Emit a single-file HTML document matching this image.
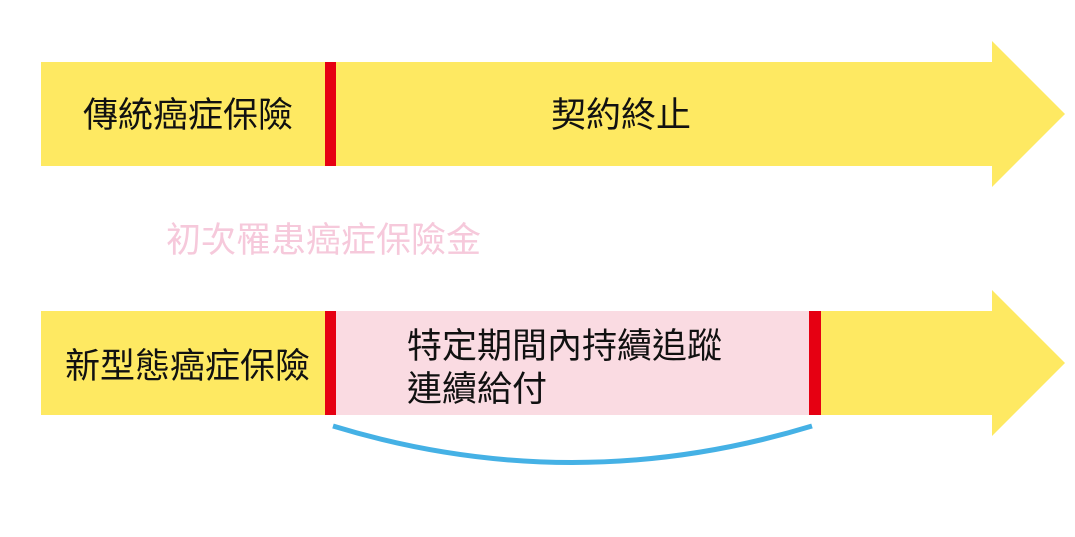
<!DOCTYPE html>
<html>
<head>
<meta charset="utf-8">
<style>
  html,body{margin:0;padding:0;background:#fff;}
  svg{display:block;}
  text{font-family:"Liberation Sans","Noto Sans CJK TC","Noto Sans CJK SC",sans-serif;font-size:35px;}
</style>
</head>
<body>
<svg width="1075" height="537" viewBox="0 0 1075 537" xmlns="http://www.w3.org/2000/svg">
  <rect width="1075" height="537" fill="#ffffff"/>
  <!-- top arrow -->
  <polygon points="41,62 992,62 992,41 1065,114 992,187 992,166 41,166" fill="#FEE962"/>
  <rect x="325" y="62" width="11" height="104" fill="#E60012"/>
  <text x="83" y="127" fill="#111">傳統癌症保險</text>
  <text x="551" y="127" fill="#111">契約終止</text>

  <!-- pink label -->
  <text x="166" y="252" fill="#F6C9DB">初次罹患癌症保險金</text>

  <!-- bottom arrow -->
  <polygon points="41,311 992,311 992,290 1065,363 992,436 992,415 41,415" fill="#FEE962"/>
  <rect x="336" y="311" width="473" height="104" fill="#FADBE2"/>
  <rect x="325" y="311" width="11" height="104" fill="#E60012"/>
  <rect x="809" y="311" width="12" height="104" fill="#E60012"/>
  <text x="65" y="378" fill="#111">新型態癌症保險</text>
  <text x="407" y="358" fill="#111">特定期間內持續追蹤</text>
  <text x="407" y="401" fill="#111">連續給付</text>

  <!-- blue arc -->
  <path d="M333,426 Q572,499 812,426" fill="none" stroke="#45B1E5" stroke-width="5"/>
</svg>
</body>
</html>
